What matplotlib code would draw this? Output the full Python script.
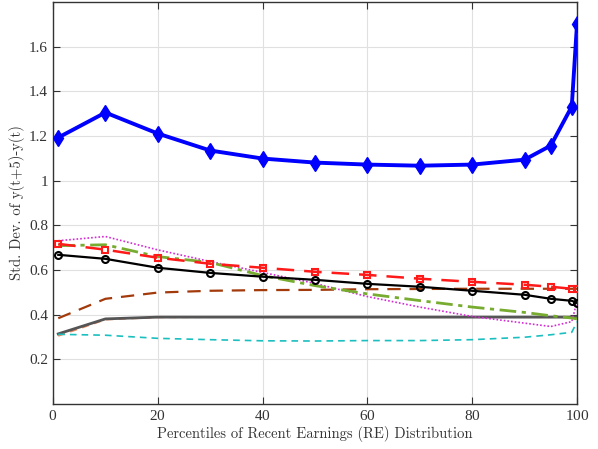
import matplotlib
matplotlib.use("Agg")
import matplotlib.pyplot as plt

x = [1, 10, 20, 30, 40, 50, 60, 70, 80, 90, 95, 99, 100]

blue = [1.193, 1.305, 1.211, 1.135, 1.099, 1.081, 1.072, 1.067, 1.072, 1.094, 1.157, 1.332, 1.700]
black = [0.668, 0.650, 0.610, 0.587, 0.570, 0.556, 0.538, 0.525, 0.507, 0.489, 0.471, 0.462, 0.453]
red = [0.717, 0.691, 0.655, 0.628, 0.610, 0.592, 0.578, 0.561, 0.547, 0.534, 0.525, 0.516, 0.516]
green = [0.709, 0.713, 0.660, 0.634, 0.575, 0.530, 0.493, 0.463, 0.434, 0.410, 0.395, 0.385, 0.381]
magenta = [0.731, 0.750, 0.690, 0.638, 0.589, 0.540, 0.481, 0.434, 0.392, 0.362, 0.347, 0.369, 0.459]
brown = [0.384, 0.471, 0.499, 0.507, 0.510, 0.511, 0.514, 0.515, 0.516, 0.516, 0.516, 0.516, 0.516]
gray = [0.314, 0.381, 0.389, 0.389, 0.389, 0.389, 0.389, 0.389, 0.389, 0.389, 0.389, 0.389, 0.389]
orange = [0.305, 0.378, 0.388, 0.389, 0.389, 0.389, 0.389, 0.389, 0.389, 0.389, 0.389, 0.389, 0.385]
cyan = [0.312, 0.308, 0.294, 0.288, 0.283, 0.282, 0.284, 0.284, 0.288, 0.299, 0.310, 0.321, 0.368]

xticks = [0, 20, 40, 60, 80, 100]
yticks = [0.2, 0.4, 0.6, 0.8, 1.0, 1.2, 1.4, 1.6]
yticklabels = ["0.2", "0.4", "0.6", "0.8", "1", "1.2", "1.4", "1.6"]

plt.rcParams['font.family'] = ['Liberation Serif', 'DejaVu Serif']
plt.rcParams['axes.formatter.use_mathtext'] = True

fig = plt.figure(figsize=(5.98, 4.49), dpi=100)
ax = fig.add_axes([53/598, 1-404/449, (577-53)/598, (404-2)/449])

ax.plot(x, orange, color='#F08A5D', lw=1.3, ls=(0, (4, 3)), zorder=2)
ax.plot(x, gray, color='#555555', lw=2.0, zorder=3)
ax.plot(x, cyan, color='#1BBFBF', lw=1.2, ls=(0, (4, 3)), zorder=3)
ax.plot(x, brown, color='#A33A0C', lw=1.6, ls=(0, (6, 4)), zorder=3)
ax.plot(x, magenta, color='#D42BD4', lw=1.2, ls=(0, (1, 1.2)), zorder=3)
ax.plot(x, green, color='#77AC30', lw=2.0, ls=(0, (6, 2, 1.5, 2)), zorder=4)
ax.plot(x, black, color='black', lw=1.6, marker='o', ms=5, mfc='none', mew=1.5, zorder=5)
ax.plot(x, red, color='#FF1A1A', lw=1.8, ls=(0, (7, 4)), marker='s', ms=4.8, mfc='none', mew=1.5, zorder=5)
ax.plot(x, blue, color='#0000FF', lw=2.8, marker='d', ms=8, zorder=6)

ax.set_xlim(0, 100)
ax.set_ylim(0, 1.8)
ax.set_xticks(xticks)
ax.set_yticks(yticks)
ax.set_yticklabels(yticklabels)
ax.grid(True, color='#E0E0E0', lw=0.8)
ax.set_axisbelow(True)
ax.tick_params(direction='in', length=5, width=0.8, colors='#333333', labelsize=11,
               top=True, right=True, labelcolor='#333333')
for s in ax.spines.values():
    s.set_color('#333333')
    s.set_linewidth(1.0)

ax.set_xlabel('Percentiles of Recent Earnings (RE) Distribution', fontfamily='cmr10', fontsize=10.5,
              color='#333333', labelpad=2)
ax.set_ylabel('Std. Dev. of y(t+5)-y(t)', fontfamily='cmr10', fontsize=10.5, color='#333333', labelpad=3)

fig.savefig('out.png', dpi=100)
